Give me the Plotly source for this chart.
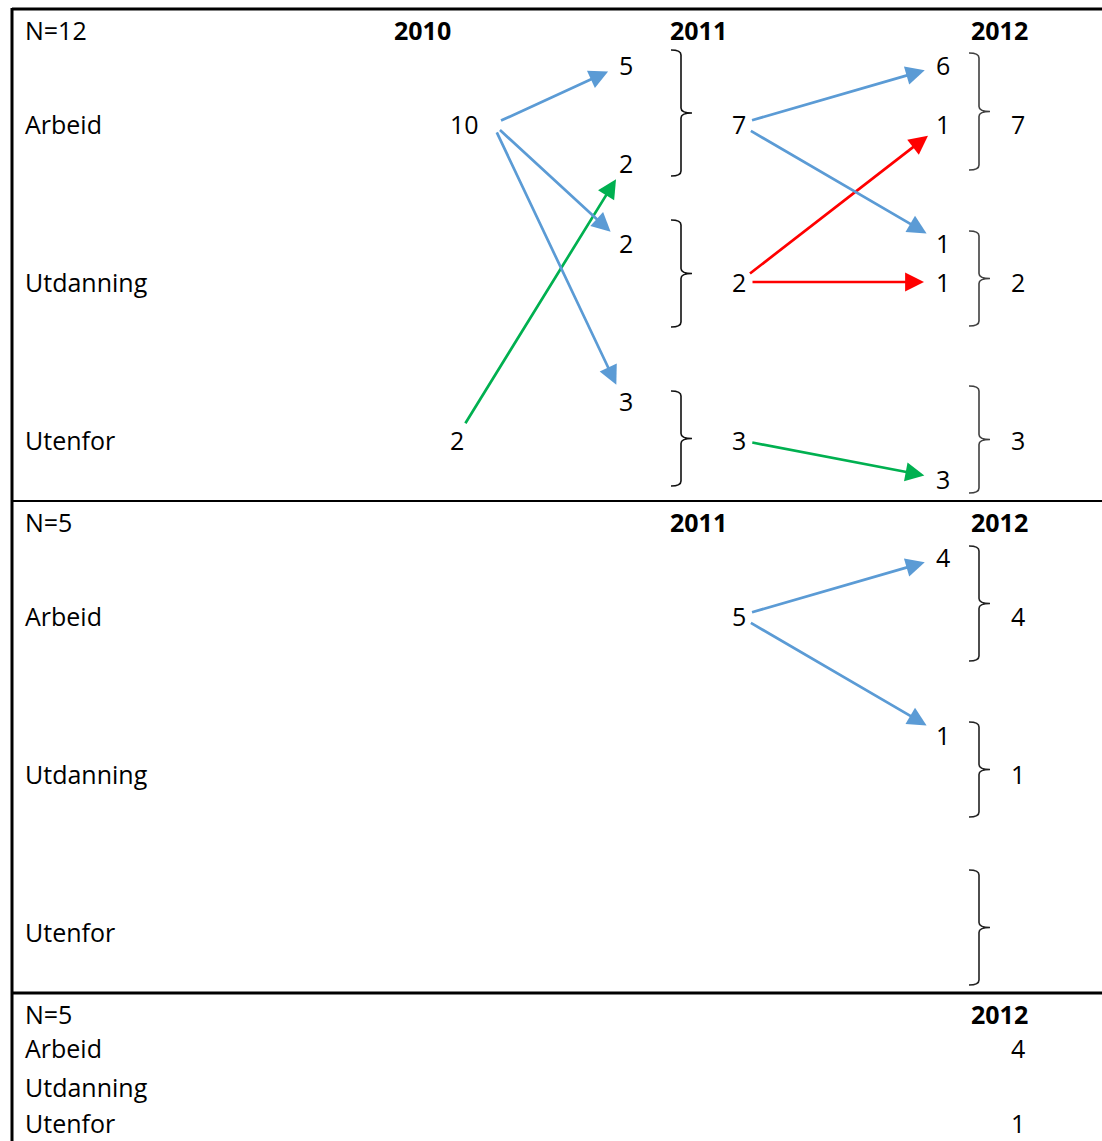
import plotly.graph_objects as go

# ---------------- DATA ----------------
categories = ["Arbeid", "Utdanning", "Utenfor"]
panel_titles = ["N=12", "N=5", "N=5"]
panel_years = [["2010", "2011", "2012"], ["2011", "2012"], ["2012"]]

# Panel 1 (N=12)
p1_2010 = [10, None, 2]
p1_flow_2011_from = ["Arbeid", "Utenfor", "Arbeid", "Arbeid"]
p1_flow_2011_to = ["Arbeid", "Arbeid", "Utdanning", "Utenfor"]
p1_flow_2011_n = [5, 2, 2, 3]
p1_2011_total = [7, 2, 3]
p1_flow_2012_from = ["Arbeid", "Utdanning", "Arbeid", "Utdanning", "Utenfor"]
p1_flow_2012_to = ["Arbeid", "Arbeid", "Utdanning", "Utdanning", "Utenfor"]
p1_flow_2012_n = [6, 1, 1, 1, 3]
p1_2012_total = [7, 2, 3]

# Panel 2 (N=5)
p2_2011_total = [5, None, None]
p2_flow_2012_from = ["Arbeid", "Arbeid"]
p2_flow_2012_to = ["Arbeid", "Utdanning"]
p2_flow_2012_n = [4, 1]
p2_2012_total = [4, 1, None]

# Panel 3 (N=5)
p3_2012_total = [4, None, 1]

source_colors = {"Arbeid": "#5B9BD5", "Utdanning": "#FF0000", "Utenfor": "#00B050"}

# ---------------- LAYOUT (positions / styles) ----------------
W, H = 1102, 1141
FONT = "Open Sans"
FS = 25
PANEL_TOP = [9, 501, 993]
HEADER_DY = 21
ROW_DY = [115, 273, 431]
P3_ROW_DY = [55, 94, 130]
X_LABEL = 23
X_2010 = 448
X_HEAD = {"2010": 422, "2011": 698, "2012": 999}
X_SPLIT = {"2011": 626, "2012": 943}
X_TOTAL = {"2011": 739, "2012": 1018}
X_BRACE = {"2011": 681, "2012": 979}
p1_2011_split_dy = [-59, 39, -39, -39]
p1_2012_split_dy = [-59, 0, -39, 0, 39]
p2_2012_split_dy = [-59, -39]
p1_2011_brace = [(-74, 52), (-62, 45), (-49, 46)]
p1_2012_brace = [(-71, 46), (-51, 44), (-54, 53)]
p2_2012_brace = [(-70, 45), (-52, 43), (-62, 53)]

annotations = []
shapes = []


def text(x, y, s, anchor="center", bold=False):
    annotations.append(dict(
        x=x, y=y, xref="x", yref="y", text=f"<b>{s}</b>" if bold else str(s),
        showarrow=False, xanchor=anchor, yanchor="middle",
        font=dict(family=FONT, size=FS, color="black")))


def arrow(x0, y0, x1, y1, color, ox, gs, ge):
    dx, dy = x1 - x0, y1 - y0
    L = (dx * dx + dy * dy) ** 0.5
    ux, uy = dx / L, dy / L
    annotations.append(dict(
        x=x1 - ge * ux, y=y1 - ge * uy, ax=x0 + ox + gs * ux, ay=y0 + gs * uy,
        xref="x", yref="y", axref="x", ayref="y", text="",
        showarrow=True, arrowhead=2, arrowsize=1.4, arrowwidth=2.7,
        arrowcolor=color, standoff=0, startstandoff=0))


def brace(xv, yt, yb, color="#222222"):
    ym = (yt + yb) / 2
    h, t, r = 10, 11, 5
    path = (f"M {xv - h},{yt} Q {xv},{yt} {xv},{yt + r} L {xv},{ym - r} "
            f"Q {xv},{ym} {xv + t},{ym} Q {xv},{ym} {xv},{ym + r} "
            f"L {xv},{yb - r} Q {xv},{yb} {xv - h},{yb}")
    shapes.append(dict(type="path", path=path, xref="x", yref="y",
                       line=dict(color=color, width=1.6)))


def line(x0, y0, x1, y1, w):
    shapes.append(dict(type="line", x0=x0, y0=y0, x1=x1, y1=y1, xref="x", yref="y",
                       line=dict(color="black", width=w)))


def start_offset(v):
    return 30 * (len(str(v)) - 1)


GS = 8
GE = 19

# borders
line(12, PANEL_TOP[0], W + 4, PANEL_TOP[0], 3)
line(12, PANEL_TOP[0] - 1, 12, H + 4, 3)
line(12, PANEL_TOP[1], W + 4, PANEL_TOP[1], 2)
line(12, PANEL_TOP[2], W + 4, PANEL_TOP[2], 3)

# headers
for p in range(3):
    top = PANEL_TOP[p]
    text(X_LABEL, top + HEADER_DY, panel_titles[p], anchor="left")
    for yr in panel_years[p]:
        text(X_HEAD[yr], top + HEADER_DY, yr, bold=True)

# row labels
for p in range(2):
    for i, c in enumerate(categories):
        text(X_LABEL, PANEL_TOP[p] + ROW_DY[i], c, anchor="left")
for i, c in enumerate(categories):
    text(X_LABEL, PANEL_TOP[2] + P3_ROW_DY[i], c, anchor="left")


def row_y(p, cat):
    return PANEL_TOP[p] + ROW_DY[categories.index(cat)]


# ---- Panel 1 ----
src_2010 = {}
for i, c in enumerate(categories):
    v = p1_2010[i]
    if v is not None:
        text(X_2010, row_y(0, c), v, anchor="left")
        src_2010[c] = (X_2010 + 7 * len(str(v)), row_y(0, c), v)

for k in range(len(p1_flow_2011_n)):
    ty = row_y(0, p1_flow_2011_to[k]) + p1_2011_split_dy[k]
    tx = X_SPLIT["2011"]
    text(tx, ty, p1_flow_2011_n[k])
    sx, sy, sv = src_2010[p1_flow_2011_from[k]]
    arrow(sx, sy, tx, ty, source_colors[p1_flow_2011_from[k]],
          start_offset(sv), GS + 10 * (len(str(sv)) == 1), GE)

for i, c in enumerate(categories):
    text(X_TOTAL["2011"], row_y(0, c), p1_2011_total[i])
    dt, db = p1_2011_brace[i]
    brace(X_BRACE["2011"], row_y(0, c) + dt, row_y(0, c) + db, "#111111")

for k in range(len(p1_flow_2012_n)):
    ty = row_y(0, p1_flow_2012_to[k]) + p1_2012_split_dy[k]
    tx = X_SPLIT["2012"]
    text(tx, ty, p1_flow_2012_n[k])
    fc = p1_flow_2012_from[k]
    sv = p1_2011_total[categories.index(fc)]
    arrow(X_TOTAL["2011"], row_y(0, fc), tx, ty, source_colors[fc],
          start_offset(sv), 12, GE)

for i, c in enumerate(categories):
    text(X_TOTAL["2012"], row_y(0, c), p1_2012_total[i])
    dt, db = p1_2012_brace[i]
    brace(X_BRACE["2012"], row_y(0, c) + dt, row_y(0, c) + db, "#404040")

# ---- Panel 2 ----
for i, c in enumerate(categories):
    if p2_2011_total[i] is not None:
        text(X_TOTAL["2011"], row_y(1, c), p2_2011_total[i])

for k in range(len(p2_flow_2012_n)):
    ty = row_y(1, p2_flow_2012_to[k]) + p2_2012_split_dy[k]
    tx = X_SPLIT["2012"]
    text(tx, ty, p2_flow_2012_n[k])
    fc = p2_flow_2012_from[k]
    sv = p2_2011_total[categories.index(fc)]
    arrow(X_TOTAL["2011"], row_y(1, fc), tx, ty, source_colors[fc],
          start_offset(sv), 12, GE)

for i, c in enumerate(categories):
    if p2_2012_total[i] is not None:
        text(X_TOTAL["2012"], row_y(1, c), p2_2012_total[i])
    dt, db = p2_2012_brace[i]
    brace(X_BRACE["2012"], row_y(1, c) + dt, row_y(1, c) + db, "#222222")

# ---- Panel 3 ----
for i, c in enumerate(categories):
    if p3_2012_total[i] is not None:
        text(X_TOTAL["2012"], PANEL_TOP[2] + P3_ROW_DY[i], p3_2012_total[i])

fig = go.Figure()
fig.add_trace(go.Scatter(x=[0, W], y=[0, H], mode="markers",
                         marker=dict(opacity=0), hoverinfo="skip", showlegend=False))
fig.update_layout(
    width=W, height=H, margin=dict(l=0, r=0, t=0, b=0),
    paper_bgcolor="white", plot_bgcolor="white",
    xaxis=dict(range=[0, W], visible=False, fixedrange=True),
    yaxis=dict(range=[H, 0], visible=False, fixedrange=True),
    annotations=annotations, shapes=shapes, showlegend=False,
)
fig.write_html(
    "out.html",
    config={"displayModeBar": False},
    post_script="document.body.style.margin='0';document.body.style.overflow='hidden';",
)
